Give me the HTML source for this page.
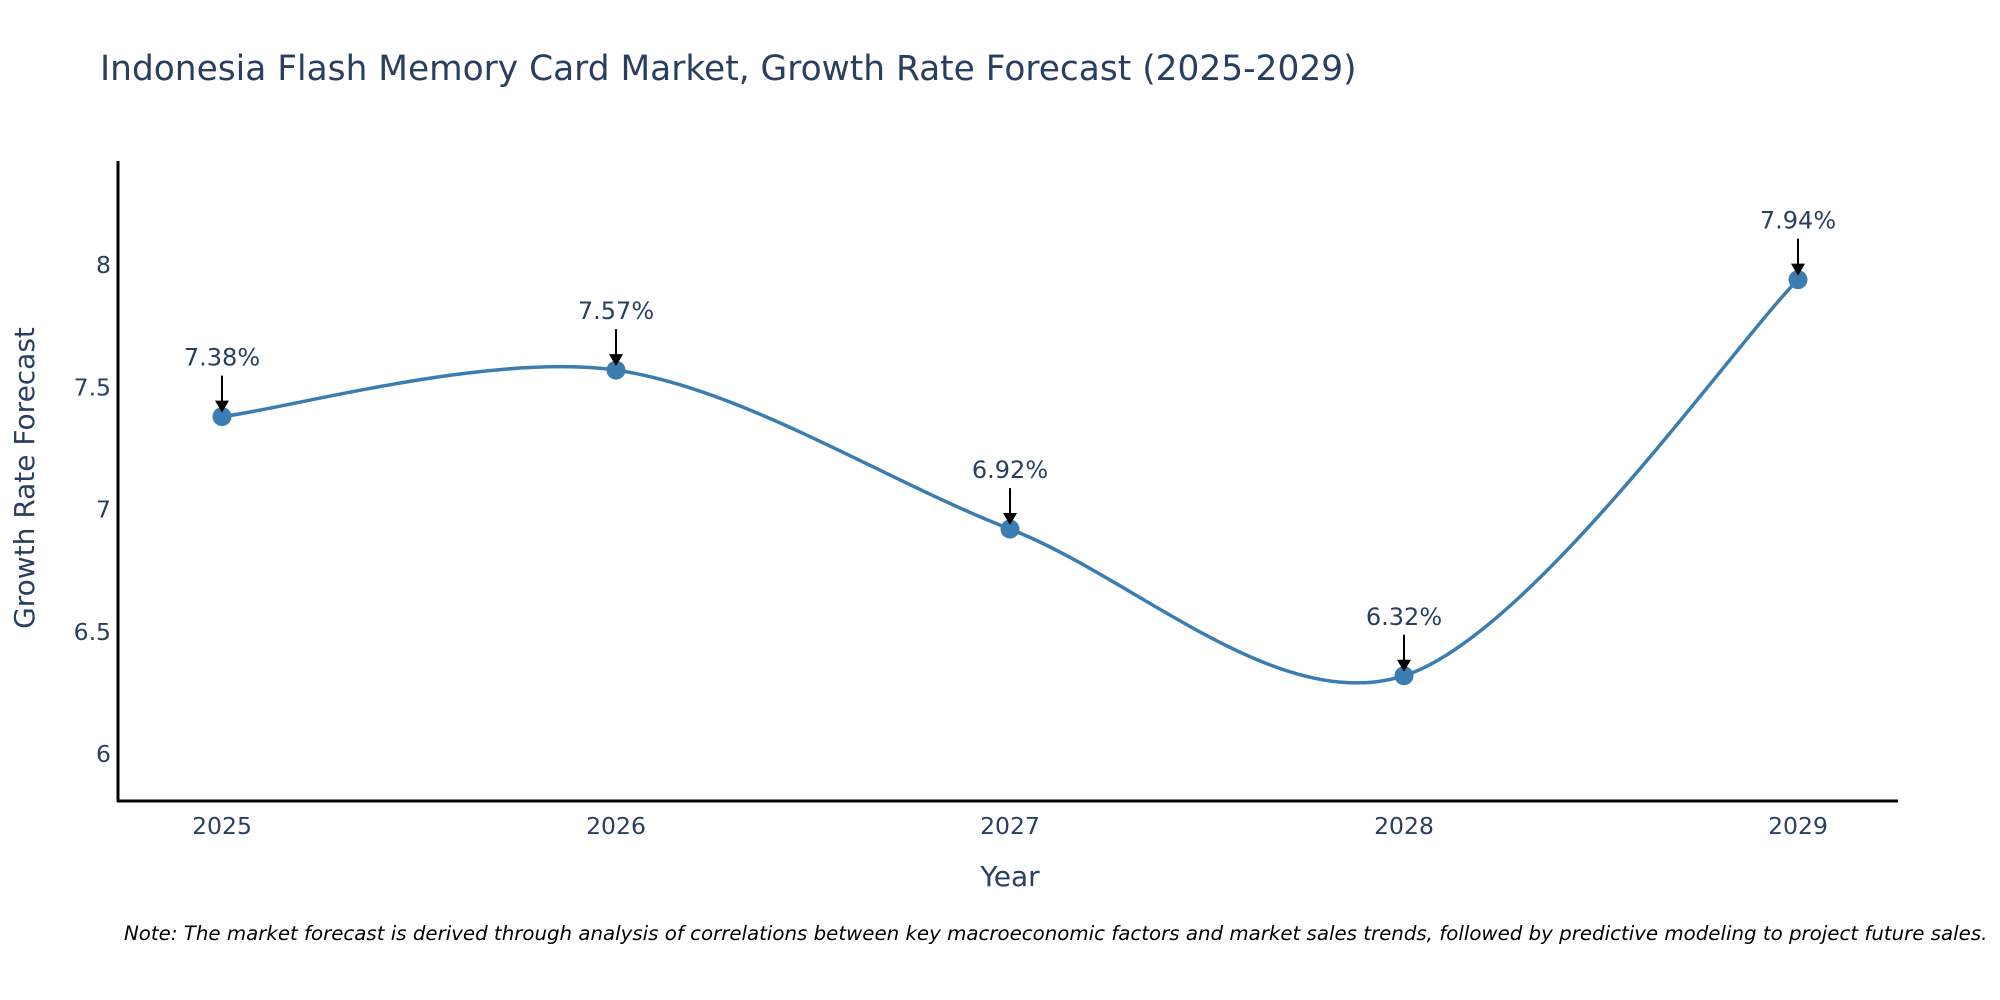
<!DOCTYPE html>
<html><head><meta charset="utf-8"><style>
html,body{margin:0;padding:0;background:#fff;}
svg{display:block;font-family:"DejaVu Sans","Liberation Sans",sans-serif;}
</style></head><body>
<svg id="chart" width="2000" height="1000" viewBox="0 0 2000 1000">
<text x="100" y="80" font-size="34.4" fill="#2a3f5f">Indonesia Flash Memory Card Market, Growth Rate Forecast (2025-2029)</text>
<g id="yticks"></g>
<g id="xticks"></g>
<line x1="118" y1="161" x2="118" y2="802" stroke="#000" stroke-width="3"/>
<line x1="117" y1="801" x2="1898" y2="801" stroke="#000" stroke-width="3"/>
<path id="line" fill="none" stroke="#3b7db0" stroke-width="3.5"/>
<g id="marks"></g>
<text transform="translate(34,478) rotate(-90)" text-anchor="middle" font-size="28" fill="#2a3f5f">Growth Rate Forecast</text>
<text x="1010" y="886" text-anchor="middle" font-size="28" fill="#2a3f5f">Year</text>
<text x="124" y="940" font-size="19.8" font-style="italic" fill="#000">Note: The market forecast is derived through analysis of correlations between key macroeconomic factors and market sales trends, followed by predictive modeling to project future sales.</text>
</svg>
<script>
const years = [2025, 2026, 2027, 2028, 2029];
const values = [7.38, 7.57, 6.92, 6.32, 7.94];
const labels = ["7.38%", "7.57%", "6.92%", "6.32%", "7.94%"];
const yTicks = [6, 6.5, 7, 7.5, 8];
const yTickLabels = ["6", "6.5", "7", "7.5", "8"];

const NS = "http://www.w3.org/2000/svg";
function xs(v){ return 222 + (v - 2025) * 394; }
function ys(v){ return 754 - (v - 6) * 244.5; }
function mk(tag, attrs, parent){ const e = document.createElementNS(NS, tag); for (const k in attrs) e.setAttribute(k, attrs[k]); parent.appendChild(e); return e; }

const yt = document.getElementById('yticks');
yTicks.forEach((t, i) => {
  const el = mk('text', {x: 111, y: ys(t) + 8, 'text-anchor': 'end', 'font-size': 23.5, fill: '#2a3f5f'}, yt);
  
  
  el.textContent = yTickLabels[i];
});
const xt = document.getElementById('xticks');
years.forEach(y => {
  const el = mk('text', {x: xs(y), y: 834, 'text-anchor': 'middle', 'font-size': 23.5, fill: '#2a3f5f'}, xt);
  
  
  el.textContent = String(y);
});

const pts = years.map((y, i) => [xs(y), ys(values[i])]);
let d = `M${pts[0][0]},${pts[0][1]}`;
const s = 0.16;
for (let i = 0; i < pts.length - 1; i++) {
  const p0 = pts[i - 1] || pts[i], p1 = pts[i], p2 = pts[i + 1], p3 = pts[i + 2] || pts[i + 1];
  const c1 = [p1[0] + (p2[0] - p0[0]) * s, p1[1] + (p2[1] - p0[1]) * s];
  const c2 = [p2[0] - (p3[0] - p1[0]) * s, p2[1] - (p3[1] - p1[1]) * s];
  d += ` C${c1[0]},${c1[1]} ${c2[0]},${c2[1]} ${p2[0]},${p2[1]}`;
}
document.getElementById('line').setAttribute('d', d);

const g = document.getElementById('marks');
pts.forEach((p, i) => {
  const c = mk('circle', {cx: p[0], cy: p[1], r: 9.5, fill: '#3b7db0'}, g);
  
  
  const a = mk('line', {x1: p[0], y1: p[1] - 41, x2: p[0], y2: p[1] - 14, stroke: '#000', 'stroke-width': 2}, g);
  
  
  const h = mk('polygon', {points: `${p[0]-7},${p[1]-16} ${p[0]+7},${p[1]-16} ${p[0]},${p[1]-4}`, fill: '#000'}, g);
  
  
  const t = mk('text', {x: p[0], y: p[1] - 51, 'text-anchor': 'middle', 'font-size': 24, fill: '#2a3f5f'}, g);
  
  
  t.textContent = labels[i];
});
</script>
</body></html>
